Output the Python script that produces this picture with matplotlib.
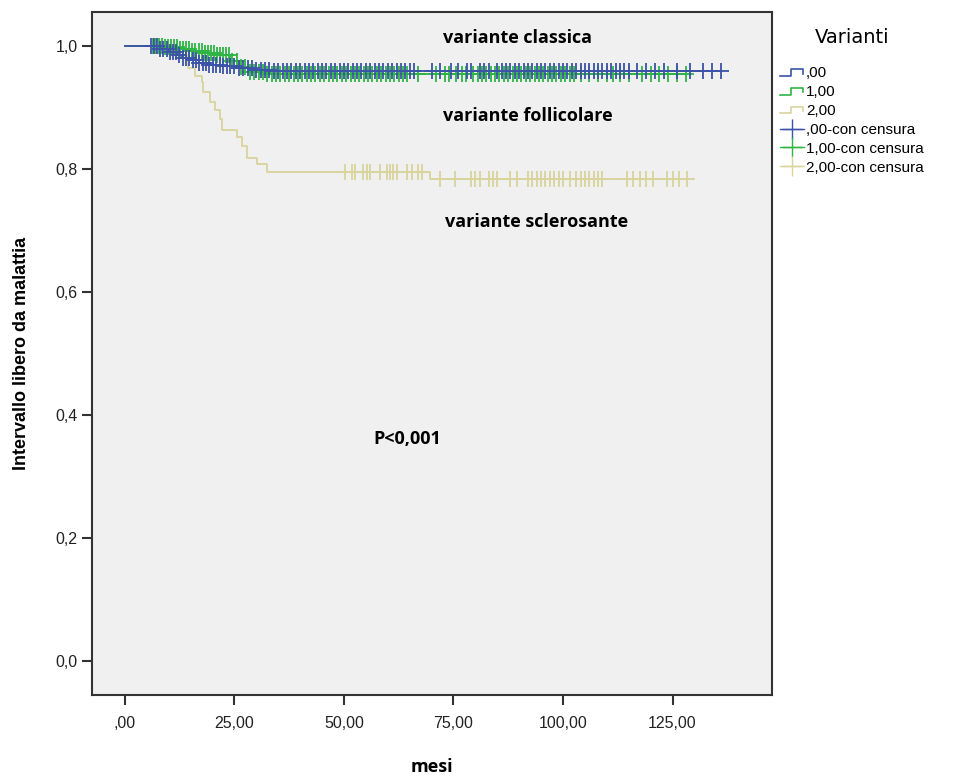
import matplotlib.pyplot as plt
import numpy as np
from matplotlib.lines import Line2D
from matplotlib.legend_handler import HandlerBase

# Kaplan-Meier: tempi degli eventi e sopravvivenza dopo ogni evento
t0 = [0, 8, 10, 12, 13, 15, 17, 19, 22, 26, 30, 34]
s0 = [1.0, 0.995, 0.99, 0.985, 0.98, 0.976, 0.972, 0.969, 0.966, 0.963, 0.961, 0.959]
t1 = [0, 9, 12, 15, 18, 21, 24, 26, 28, 32]
s1 = [1.0, 0.997, 0.994, 0.991, 0.988, 0.985, 0.975, 0.965, 0.957, 0.953]
t2 = [0, 12, 14.4, 16, 17.6, 17.8, 19.4, 20.5, 21.7, 22.1, 25.6, 26.7, 27.9, 30.1, 32.4, 69.6]
s2 = [1.0, 0.985, 0.964, 0.950, 0.940, 0.924, 0.909, 0.896, 0.880, 0.863, 0.852, 0.836, 0.818, 0.807, 0.795, 0.783]

# tempi censurati
c0 = [6, 6.7, 7.4, 8, 8.8, 9.5, 10.2, 11, 11.7, 12.4, 13.2, 14, 14.7, 15.5, 16.2, 17, 17.8,
      18.5, 19.3, 20, 20.8, 21.6, 22.4, 23.2, 24, 25, 26, 27, 28, 29, 30, 31, 32, 33, 34, 35,
      36, 37, 38, 39, 40, 41, 42, 43, 44, 45, 46, 47, 48, 49, 50, 51, 52, 53, 54, 55, 56, 57,
      58, 59, 60, 61, 62, 63, 64, 65, 66, 70, 72, 74.5, 76, 78, 79, 81, 82, 83, 85, 86, 87, 88,
      89, 90, 91, 92, 93, 94, 95, 96, 97, 98, 99, 100, 101, 102, 103, 104, 105, 106, 107, 108,
      109, 110, 111, 112, 113, 114, 115, 117, 119, 121, 123, 126, 129, 132, 134, 136]
c1 = [6.5, 7, 7.7, 8.4, 9.1, 9.8, 10.5, 11.2, 11.9, 12.6, 13.3, 14, 14.7, 15.4, 16.1, 16.8,
      17.5, 18.2, 18.9, 19.6, 20.3, 21, 21.7, 22.4, 23.1, 23.8, 24.5, 25.5, 26.5, 27.5, 28.5,
      29.5, 30.5, 31.5, 32.5, 33.5, 34.5, 35.5, 36.5, 37.5, 38.5, 39.5, 40.5, 41.5, 42.5, 43.5,
      44.5, 45.5, 46.5, 47.5, 48.5, 49.5, 50.5, 51.5, 52.5, 53.5, 54.5, 55.5, 56.5, 57.5, 58.5,
      59.5, 60.5, 61.5, 62.5, 63.5, 64.5, 67, 71, 73, 74, 75.5, 77, 77.8, 79.5, 80.5, 81.5,
      82.5, 83.5, 84.5, 85.5, 86.5, 87.5, 88.5, 89.5, 90.5, 91.5, 92.5, 93.5, 94.5, 95.5, 96.5,
      97.5, 98.5, 99.5, 100.5, 101.5, 102.5, 104, 106, 108, 110, 111.5, 113, 115, 118, 120,
      122, 124, 126, 128]
c2 = [50.2, 51.8, 52.5, 54.3, 55.3, 55.9, 58.2, 59.8, 60.5, 61.2, 62.1, 64.4, 65.5, 66.9, 67.8,
      72, 75.3, 79, 80, 81, 83, 84, 85, 88, 89.5, 92, 93, 94, 95, 96, 97, 98, 99, 100, 101.6,
      103, 104, 105, 106, 107, 108, 109, 114.6, 116, 117.6, 119, 120.5, 123.7, 125, 126.5, 128.3]

groups = [",00", "1,00", "2,00"]
colors = ["#3b53a8", "#2fb545", "#d8d49c"]

xticks = [0, 25, 50, 75, 100, 125]
xticklabels = [",00", "25,00", "50,00", "75,00", "100,00", "125,00"]
yticks = [0, 0.2, 0.4, 0.6, 0.8, 1.0]
yticklabels = ["0,0", "0,2", "0,4", "0,6", "0,8", "1,0"]


class StepHandler(HandlerBase):
    def create_artists(self, legend, orig_handle, xdescent, ydescent, width, height, fontsize, trans):
        xs = np.array([0, 0.45, 0.45, 0.95, 0.95]) * width - xdescent
        ys = np.array([0.15, 0.15, 0.75, 0.75, 0.35]) * height - ydescent
        line = Line2D(xs, ys, color=orig_handle.get_color(), lw=1.2)
        line.set_transform(trans)
        return [line]


fig = plt.figure(figsize=(9.59, 7.78), dpi=100)
ax = fig.add_axes([0.096, 0.107, 0.709, 0.878])
ax.set_facecolor("#f0f0f0")

data = [(t2, s2, c2, colors[2]), (t1, s1, c1, colors[1]), (t0, s0, c0, colors[0])]
for t, s, c, col in data:
    end = max(c)
    ax.step(t + [end], s + [s[-1]], where="post", color=col, lw=1.3)
    idx = np.searchsorted(t, c, side="right") - 1
    ax.plot(c, np.array(s)[idx], "+", color=col, ms=11, mew=1.3, ls="none")

ax.set_xlim(-7.5, 147.7)
ax.set_ylim(-0.055, 1.055)
ax.set_xticks(xticks)
ax.set_xticklabels(xticklabels)
ax.set_yticks(yticks)
ax.set_yticklabels(yticklabels)
ax.tick_params(direction="out", length=7, width=1.5, color="#333333", labelsize=11.5)
ax.tick_params(axis="x", pad=8)
for lab in ax.get_xticklabels() + ax.get_yticklabels():
    lab.set_family("Liberation Sans")
    lab.set_color("#222222")
for sp in ax.spines.values():
    sp.set_color("#333333")
    sp.set_linewidth(1.5)

ax.set_xlabel("mesi", fontsize=13, fontweight="bold", family="Open Sans", labelpad=20)
ax.set_ylabel("Intervallo libero da malattia", fontsize=13, fontweight="bold",
              family="Liberation Sans", labelpad=18)

tf = dict(fontsize=13, fontweight="bold", family="Open Sans", va="center")
ax.text(72.6, 1.013, "variante classica", **tf)
ax.text(72.6, 0.886, "variante follicolare", **tf)
ax.text(73, 0.714, "variante sclerosante", **tf)
ax.text(56.6, 0.36, "P<0,001", **tf)

handles = [Line2D([], [], color=c) for c in colors]
handles += [Line2D([], [], color=c, marker="+", ms=14, lw=1) for c in colors]
labels = groups + [g + "-con censura" for g in groups]
hmap = {h: StepHandler() for h in handles[:3]}
leg = fig.legend(handles, labels, handler_map=hmap, loc="upper left",
                 bbox_to_anchor=(0.802, 0.978), frameon=False, title="Varianti",
                 prop={"family": "Liberation Sans", "size": 11}, handlelength=1.6,
                 handletextpad=0.1, labelspacing=0.32, borderpad=0.2)
leg.get_title().set_fontsize(14)
leg.get_title().set_family("DejaVu Sans")
leg._legend_handle_box.set_height(0)
leg.get_title().set_y(0)
leg._legend_title_box._text.set_position((0, 0))
leg._legend_box.sep = 14

fig.savefig("out.png", dpi=100)
